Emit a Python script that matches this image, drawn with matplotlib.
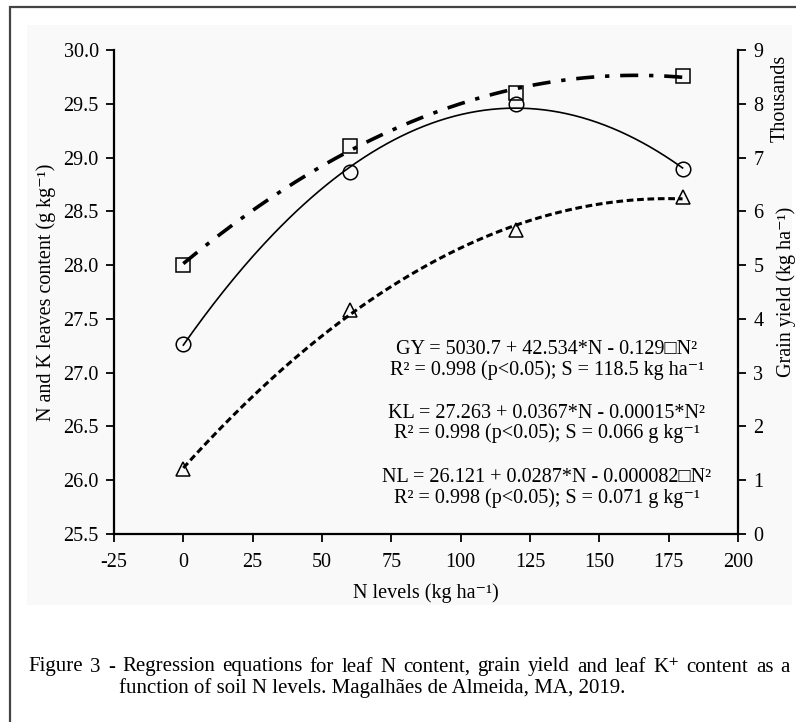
import numpy as np
import matplotlib
matplotlib.use('Agg')
import matplotlib.pyplot as plt
from matplotlib.patches import Rectangle

plt.rcParams['font.family'] = ['Liberation Serif', 'DejaVu Serif', 'DejaVu Sans']

# datos
n_levels = [0, 60, 120, 180]
kl_leaf = [27.27, 28.87, 29.50, 28.89]      # circulos, eje izq
nl_leaf = [26.10, 27.58, 28.33, 28.63]      # triangulos, eje izq
gy_yield = [5000, 7210, 8200, 8520]         # cuadrados, eje der (kg/ha)

x_ticks = [-25, 0, 25, 50, 75, 100, 125, 150, 175, 200]
left_ticks = [25.5, 26.0, 26.5, 27.0, 27.5, 28.0, 28.5, 29.0, 29.5, 30.0]
right_ticks = [0, 1, 2, 3, 4, 5, 6, 7, 8, 9]

SUP = '\u207b\u00b9'
eqs = [
    ("GY = 5030.7 + 42.534*N - 0.129\u25a1N\u00b2", "R\u00b2 = 0.998 (p<0.05); S = 118.5 kg ha" + SUP),
    ("KL = 27.263 + 0.0367*N - 0.00015*N\u00b2", "R\u00b2 = 0.998 (p<0.05); S = 0.066 g kg" + SUP),
    ("NL = 26.121 + 0.0287*N - 0.000082\u25a1N\u00b2", "R\u00b2 = 0.998 (p<0.05); S = 0.071 g kg" + SUP),
]

caption1 = 'Figure 3 - Regression equations for leaf N content, grain yield and leaf K\u207a content as a'
caption2 = 'function of soil N levels. Magalh\u00e3es de Almeida, MA, 2019.'

FS = 14.5

fig = plt.figure(figsize=(7.96, 7.22), dpi=100)

# marco y fondo
fig.patches.append(Rectangle((10/796, -0.1), 1.2, 1 - 7/722 + 0.1, transform=fig.transFigure,
                             fill=False, edgecolor='#444444', lw=1.6, zorder=-2))
fig.patches.append(Rectangle((27/796, 1 - 605/722), 765/796, 580/722, transform=fig.transFigure,
                             facecolor='#f9f9f9', edgecolor='none', zorder=-1))

ax = fig.add_axes([114/796, 1 - 534/722, 624/796, 484/722])
ax.patch.set_alpha(0)
ax2 = ax.twinx()

xs = np.linspace(0, 180, 200)

# linea de tendencia (polinomio grado 2) y puntos
c_kl = np.polyfit(n_levels, kl_leaf, 2)
ax.plot(xs, np.polyval(c_kl, xs), color='black', lw=1.2)
ax.plot(n_levels, kl_leaf, 'o', ms=10.5, mfc='none', mec='black', mew=1.1)

c_nl = np.polyfit(n_levels, nl_leaf, 2)
ax.plot(xs, np.polyval(c_nl, xs), color='black', lw=2.2, dashes=(2.2, 1.2))
ax.plot(n_levels, nl_leaf, '^', ms=10, mfc='none', mec='black', mew=1.1)

c_gy = np.polyfit(n_levels, gy_yield, 2)
ax2.plot(xs, np.polyval(c_gy, xs) / 1000, color='black', lw=2.6, dashes=(5, 3, 1.2, 3))
ax2.plot(n_levels, np.array(gy_yield) / 1000, 's', ms=10, mfc='none', mec='black', mew=1.1)

ax.set_xlim(-25, 200)
ax.set_ylim(25.5, 30.0)
ax2.set_ylim(0, 9)
ax.set_xticks(x_ticks)
ax.set_xticklabels([str(v) for v in x_ticks])
ax.set_yticks(left_ticks)
ax.set_yticklabels(['%.1f' % v for v in left_ticks])
ax2.set_yticks(right_ticks)

for a in (ax, ax2):
    a.spines['top'].set_visible(False)
    a.tick_params(labelsize=FS, length=6, width=1.3, direction='out', pad=5)
ax.tick_params(axis='x', pad=8)
ax.spines['right'].set_visible(False)
ax2.spines['left'].set_visible(False)
ax2.spines['bottom'].set_visible(False)
for s in ('left', 'bottom'):
    ax.spines[s].set_linewidth(1.6)
ax2.spines['right'].set_linewidth(1.6)

ax.set_xlabel('N levels (kg ha' + SUP + ')', fontsize=FS, labelpad=8)
ax.set_ylabel('N and K leaves content (g kg' + SUP + ')', fontsize=FS, labelpad=5)
ax2.set_ylabel('Grain yield (kg ha' + SUP + ')', fontsize=FS, labelpad=9)
fig.text(780/796, 1 - 98/722, 'Thousands', rotation=90, ha='center', va='center', fontsize=FS)

# ecuaciones
ys = [350, 413, 478]
for (l1, l2), y in zip(eqs, ys):
    fig.text(547/796, 1 - y/722, l1, ha='center', va='center', fontsize=FS)
    fig.text(547/796, 1 - (y + 20)/722, l2, ha='center', va='center', fontsize=FS)

# leyenda de la figura (primera linea justificada)
renderer = fig.canvas.get_renderer()
words = caption1.split(' ')
x0, x1 = 28, 790
tw = []
for w in words:
    t = fig.text(0, 1 - 667/722, w, ha='left', va='center', fontsize=15)
    tw.append((t, t.get_window_extent(renderer).width))
gap = (x1 - x0 - sum(w for _, w in tw)) / (len(tw) - 1)
xpos = x0
for t, w in tw:
    t.set_x(xpos / 796)
    xpos += w + gap
fig.text(119/796, 1 - 688/722, caption2, ha='left', va='center', fontsize=15)

fig.savefig('out.png', dpi=100)
